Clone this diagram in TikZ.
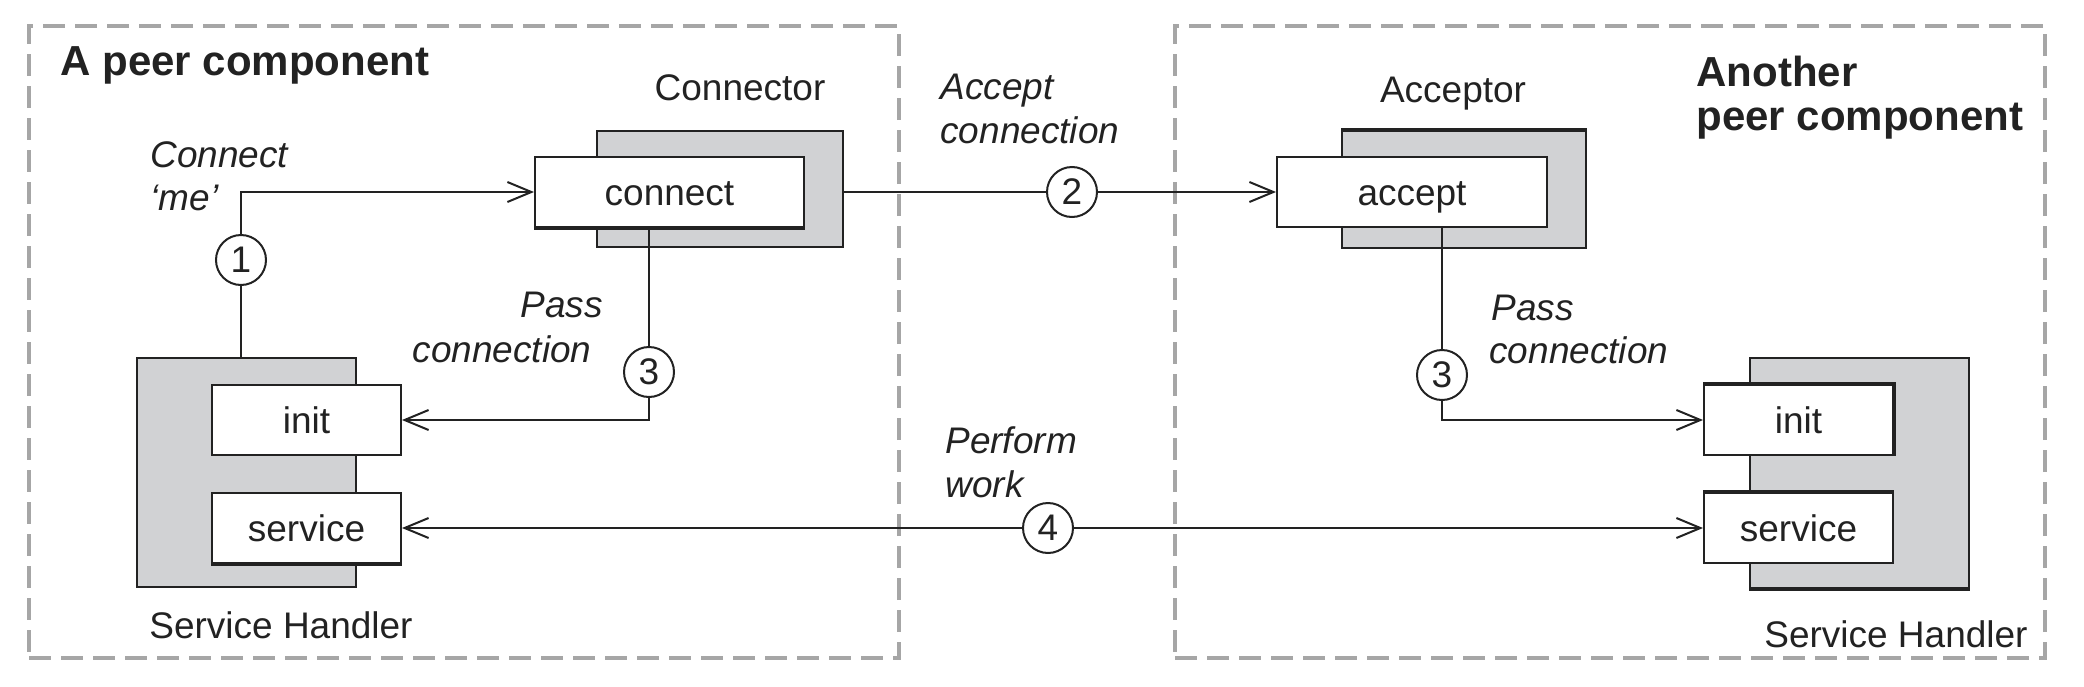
\documentclass[tikz,border=0pt]{standalone}
\usepackage{fontspec}
\setmainfont{Liberation Sans}
\usetikzlibrary{arrows.meta,calc}
\definecolor{shade}{HTML}{D1D2D4}
\definecolor{dashgray}{HTML}{A6A6A6}
\definecolor{ink}{HTML}{222222}
\tikzset{
 every node/.style={text=ink, inner sep=0pt},
 txt/.style={font=\fontsize{18.5}{22}\selectfont},
 itxt/.style={font=\fontsize{18.5}{22}\selectfont\itshape},
 btxt/.style={font=\fontsize{21}{25}\selectfont\bfseries},
 comp/.style={draw=dashgray, line width=2.2pt, dash pattern=on 11pt off 5pt},
 shell/.style={draw=ink, fill=shade, line width=1pt},
 iface/.style={draw=ink, fill=white, line width=1pt, txt, minimum width=94.5pt, minimum height=35pt, text height=13.3pt, text depth=0pt},
 num/.style={circle, draw=ink, fill=white, line width=1pt, minimum size=25pt, txt},
 conn/.style={draw=ink, line width=1pt},
 tip/.style={-{Straight Barb[length=12pt,width=10pt,line width=1pt]}},
 heavy/.style={draw=ink, line width=2pt},
}
\begin{document}
\begin{tikzpicture}[x=0.5pt,y=-0.5pt]
\useasboundingbox (0,0) rectangle (2084,686);
% components
\node[comp, minimum width=435pt, minimum height=316pt] (peerA) at (464,342) {};
\node[comp, minimum width=435pt, minimum height=316pt] (peerB) at (1610,342) {};
% left side
\node[btxt, anchor=base west] (titleA) at (60,75) {A peer component};
\node[txt, anchor=base] (lblConnector) at (740,100) {Connector};
\node[shell, minimum width=123pt, minimum height=58pt] (connectorbox) at (720,189) {};
\node[iface, minimum width=134.5pt] (connect) at (669.5,192) {connect};
\draw[heavy] (connect.south west) -- (connect.south east);
\node[shell, minimum width=109.5pt, minimum height=114.5pt] (shL) at (246.5,472.5) {};
\node[iface] (initL) at (306.5,420) {init};
\node[iface] (servL) at (306.5,528) {service};
\draw[heavy] (servL.south west) -- (servL.south east);
\node[itxt, anchor=base west] (lblConnect1) at (150,167) {Connect};
\node[itxt, anchor=base west] (lblConnect2) at (150,210) {‘me’};
\node[itxt, anchor=base east] (lblPass1) at (603,317) {Pass};
\node[itxt, anchor=base east] (lblPass2) at (592,362) {connection};
\node[txt, anchor=base west] (lblSHL) at (149,638) {Service Handler};
% middle labels
\node[itxt, anchor=base west] (lblAccept1) at (940,99) {Accept};
\node[itxt, anchor=base west] (lblAccept2) at (940,143) {connection};
\node[itxt, anchor=base west] (lblPerform1) at (945,453) {Perform};
\node[itxt, anchor=base west] (lblPerform2) at (945,497) {work};
% right side
\node[txt, anchor=base] (lblAcceptor) at (1453,102) {Acceptor};
\node[shell, minimum width=122pt, minimum height=58.5pt] (acceptorbox) at (1464,189.5) {};
\draw[heavy] (acceptorbox.north west) -- (acceptorbox.north east);
\node[iface, minimum width=135pt] (accept) at (1412,192) {accept};
\node[btxt, anchor=base west] (titleB1) at (1696,86) {Another};
\node[btxt, anchor=base west] (titleB2) at (1696,130) {peer component};
\node[itxt, anchor=base west] (lblPassR1) at (1491,320) {Pass};
\node[itxt, anchor=base west] (lblPassR2) at (1489,363) {connection};
\node[shell, minimum width=109.5pt, minimum height=115pt] (shR) at (1859.5,473) {};
\draw[heavy] (shR.south west) -- (shR.south east);
\node[iface] (initR) at (1798.5,420) {init};
\draw[heavy] (initR.north west) -- (initR.north east) -- (initR.south east);
\node[iface] (servR) at (1798.5,528) {service};
\draw[heavy] (servR.north west) -- (servR.north east);
\node[txt, anchor=base east] (lblSHR) at (2028,647) {Service Handler};
% numbered steps
\node[num] (c1) at (241,260) {1};
\node[num] (c2) at (1072,192) {2};
\node[num] (c3L) at (649,372) {3};
\node[num] (c3R) at (1442,375) {3};
\node[num] (c4) at (1048,528) {4};
% connectors
\draw[conn] (c1 |- shL.north) -- (c1);
\draw[conn,tip] (c1) |- (connect.west);
\draw[conn] (connectorbox.east |- c2) -- (c2);
\draw[conn,tip] (c2) -- (accept.west);
\draw[conn] (c3L |- connect.south) -- (c3L);
\draw[conn,tip] (c3L) |- (initL.east);
\draw[conn] (c3R |- accept.south) -- (c3R);
\draw[conn,tip] (c3R) |- (initR.west);
\draw[conn,tip] (c4) -- (servL.east);
\draw[conn,tip] (c4) -- (servR.west);
\end{tikzpicture}
\end{document}
